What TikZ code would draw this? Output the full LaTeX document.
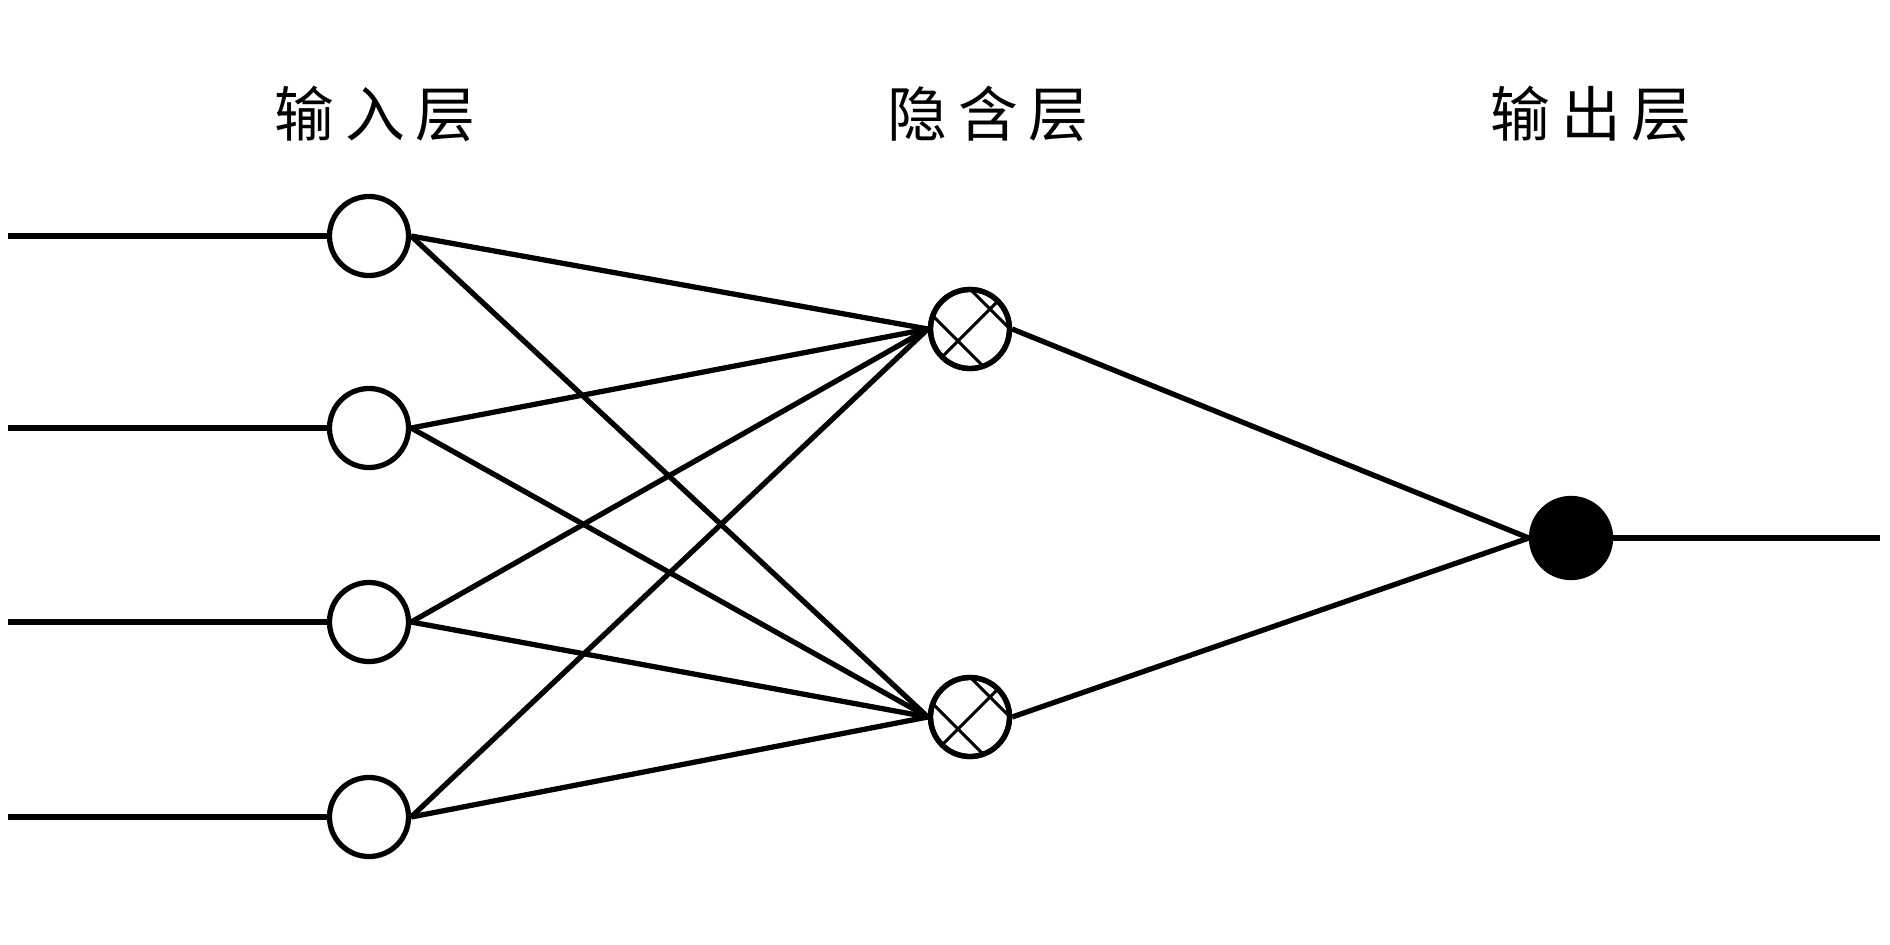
\documentclass[tikz,border=0pt]{standalone}
\usepackage{fontspec}
\usetikzlibrary{calc}
\newfontfamily\cjk[LetterSpace=18]{Noto Sans CJK SC}
\begin{document}
\begin{tikzpicture}[x=0.01cm,y=-0.01cm,
  wire/.style={line width=1.5pt, line cap=butt},
  neuron/.style={circle, draw, line width=1.5pt, minimum size=0.79cm, inner sep=0pt, fill=white},
  outneuron/.style={neuron, fill=black},
  hatch/.style={line width=0.85pt},
  layerlabel/.style={font=\cjk\fontsize{17pt}{20pt}\selectfont, inner sep=0pt, anchor=center}]
\useasboundingbox (0,0) rectangle (1890,945);
% labels
\node[layerlabel] (l1) at (375,114) {输入层};
\node[layerlabel] (l2) at (988,114) {隐含层};
\node[layerlabel] (l3) at (1591,114) {输出层};
% input nodes
\node[neuron] (i1) at (369,236) {};
\node[neuron] (i2) at (369,428) {};
\node[neuron] (i3) at (369,622) {};
\node[neuron] (i4) at (369,817) {};
% hidden nodes
\node[neuron] (h1) at (970,329) {};
\node[neuron] (h2) at (970,717) {};
% output
\node[outneuron] (o) at (1571,538) {};
% free ends
\coordinate (s1) at (8,236);
\coordinate (s2) at (8,428);
\coordinate (s3) at (8,622);
\coordinate (s4) at (8,817);
\coordinate (e) at (1880,538);
% input wires
\foreach \k in {1,2,3,4} \draw[wire] (s\k) -- (i\k.west);
\draw[wire] (o.east) -- (e);
% connections
\foreach \k in {1,2,3,4} {
  \draw[wire] (i\k.east) -- (h1.west);
  \draw[wire] (i\k.east) -- (h2.west);
}
\draw[wire] (h1.east) -- (o.west);
\draw[wire] (h2.east) -- (o.west);
% hatch inside hidden nodes
\foreach \h in {h1,h2} {
  \begin{scope}
    \clip (\h.center) circle (38);
    \draw[hatch] ($(\h.center)+(-60,60)$) -- ($(\h.center)+(60,-60)$);
    \draw[hatch] ($(\h.center)+(-72,-48)$) -- ($(\h.center)+(48,72)$);
    \draw[hatch] ($(\h.center)+(-40,-80)$) -- ($(\h.center)+(80,40)$);
  \end{scope}
  \draw[line width=1.5pt] (\h.center) circle (39.5);
}
\end{tikzpicture}
\end{document}
